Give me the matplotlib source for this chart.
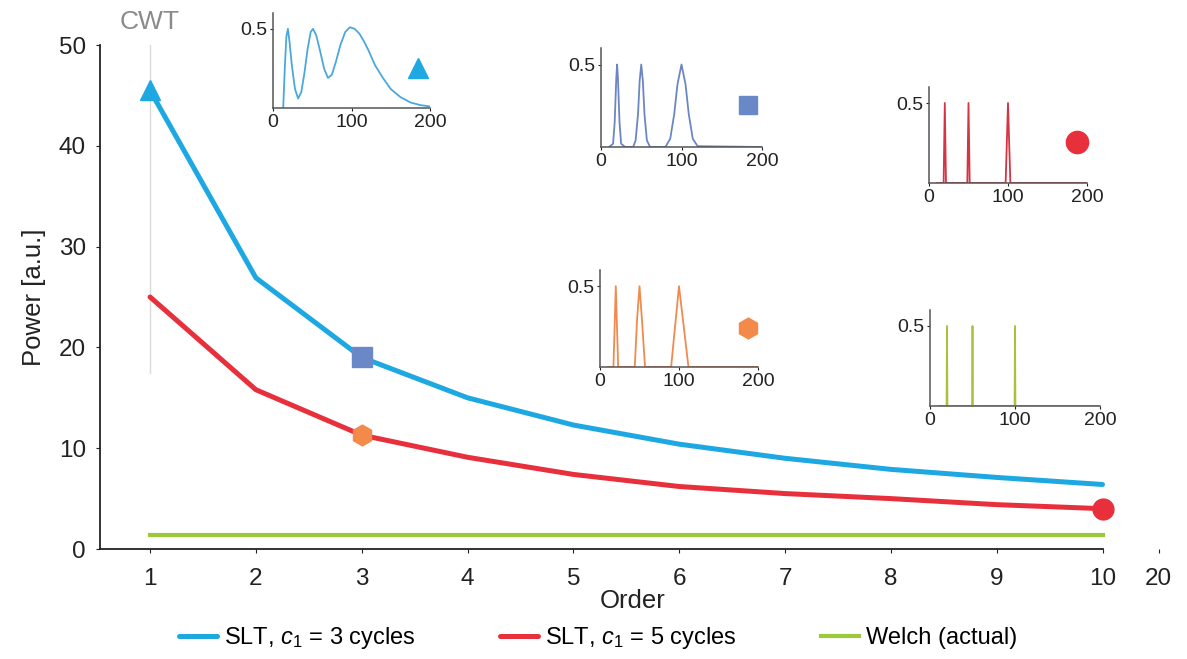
import matplotlib.pyplot as plt
import numpy as np

plt.rcParams['font.family'] = ['Liberation Sans', 'DejaVu Sans']
plt.rcParams['mathtext.fontset'] = 'custom'
plt.rcParams['mathtext.rm'] = 'Liberation Sans'
plt.rcParams['mathtext.it'] = 'Liberation Sans:italic'

# power vs. superlet order
order = [1, 2, 3, 4, 5, 6, 7, 8, 9, 10]
slt_c3 = [45.5, 26.9, 19.0, 15.0, 12.3, 10.4, 9.0, 7.9, 7.1, 6.4]
slt_c5 = [25.0, 15.8, 11.3, 9.1, 7.4, 6.2, 5.5, 5.0, 4.4, 4.0]
welch = [1.4] * 10

xticks = [1, 2, 3, 4, 5, 6, 7, 8, 9, 10]
xtick_labels = ['1', '2', '3', '4', '5', '6', '7', '8', '9', '10']
x_break = 10.53  # position where order 20 is shown after the gap

# spectra shown in the small panels (frequency, power)
f_cwt = [13, 15, 17, 19, 21, 24, 28, 32, 36, 40, 44, 48, 51, 55, 60, 65, 70, 75,
         80, 86, 92, 98, 104, 110, 116, 122, 130, 140, 150, 162, 175, 188, 200]
p_cwt = [0, 0.25, 0.45, 0.5, 0.42, 0.27, 0.12, 0.06, 0.1, 0.22, 0.37, 0.48, 0.5,
         0.46, 0.36, 0.25, 0.19, 0.21, 0.29, 0.4, 0.48, 0.51, 0.5, 0.47, 0.42,
         0.36, 0.27, 0.19, 0.12, 0.07, 0.035, 0.018, 0.01]

f_o3 = [10, 15, 17, 19, 20, 21, 23, 25, 30, 40, 43, 46, 48, 50, 52, 54, 57, 61,
        80, 86, 91, 95, 100, 105, 109, 114, 120, 200]
p_o3 = [0, 0.02, 0.15, 0.42, 0.5, 0.42, 0.15, 0.02, 0, 0, 0.04, 0.2, 0.4, 0.5,
        0.4, 0.2, 0.04, 0, 0, 0.05, 0.2, 0.38, 0.5, 0.38, 0.2, 0.05, 0.005, 0]

f_o3c5 = [10, 17, 20, 23, 44, 47, 50, 53, 57, 90, 95, 100, 106, 112, 200]
p_o3c5 = [0, 0, 0.5, 0, 0, 0.3, 0.5, 0.3, 0, 0, 0.25, 0.5, 0.25, 0, 0]

f_o10 = [10, 18.5, 20, 21.5, 48.5, 50, 51.5, 97, 100, 103, 200]
p_o10 = [0, 0, 0.5, 0, 0, 0.5, 0, 0, 0.5, 0, 0]

f_welch = [10, 19.5, 20, 20.5, 49.5, 50, 50.5, 99.5, 100, 100.5, 200]
p_welch = [0, 0, 0.5, 0, 0, 0.5, 0, 0, 0.5, 0, 0]

blue = '#1ea8e2'
red = '#e8303c'
green = '#9cc83a'
slate = '#6a88c8'
orange = '#f48a4a'
dark = '#222222'

W, H = 1187, 659
fig = plt.figure(figsize=(W / 100, H / 100), dpi=100)

x0 = 0.527
ax = fig.add_axes([100 / W, 1 - 549 / H, 1066 / W, 504 / H])
ax.set_xlim(x0, 10.6)
ax.set_ylim(0, 50)
for s in ['top', 'right']:
    ax.spines[s].set_visible(False)
for s in ['left', 'bottom']:
    ax.spines[s].set_linewidth(1.3)
    ax.spines[s].set_color(dark)
ax.spines['bottom'].set_bounds(x0, 10)

# CWT reference line at order 1
ax.plot([1, 1], [17.5, 50], color='#dadada', lw=1.0, zorder=1)
ax.text(1, 52.3, 'CWT', color='#8a8a8a', fontsize=19, ha='center', va='center')

ax.plot(order, slt_c3, color=blue, lw=3.6, solid_capstyle='round',
        label=r'SLT, $c_1$ = 3 cycles')
ax.plot(order, slt_c5, color=red, lw=3.6, solid_capstyle='round',
        label=r'SLT, $c_1$ = 5 cycles')
ax.plot(order, welch, color=green, lw=3.0, label='Welch (actual)')

ax.plot(order[0], slt_c3[0], '^', color=blue, ms=15, zorder=5)
ax.plot(order[2], slt_c3[2], 's', color=slate, ms=14, zorder=5)
ax.plot(order[2], slt_c5[2], 'h', color=orange, ms=15, zorder=5)
ax.plot(order[9], slt_c5[9], 'o', color=red, ms=15, zorder=5)

ax.set_xticks(xticks + [x_break])
ax.set_xticklabels(xtick_labels + ['20'])
ax.set_yticks([0, 10, 20, 30, 40, 50])
ax.tick_params(axis='x', labelsize=17.5, length=3, pad=11, colors=dark)
ax.tick_params(axis='y', labelsize=17.5, length=3, pad=7, colors=dark)
ax.set_xlabel('Order', fontsize=18.5, color=dark, labelpad=-1)
ax.set_ylabel('Power [a.u.]', fontsize=18.5, color=dark, labelpad=9)

fig.legend(loc='center', bbox_to_anchor=(0.504, 0.032), ncol=3, frameon=False,
           fontsize=17, handlelength=1.6, handletextpad=0.3, columnspacing=3.6)


def inset(left, right, bottom, top, f, p, color, marker, mcolor, mx, my, ms):
    a = fig.add_axes([left / W, 1 - bottom / H, (right - left) / W, (bottom - top) / H])
    a.plot(f, p, color=color, lw=1.3)
    a.set_xlim(0, 200)
    a.set_ylim(0, 0.6)
    a.set_xticks([0, 100, 200])
    a.set_yticks([0.5])
    a.set_yticklabels(['0.5'])
    a.tick_params(labelsize=14, length=2, pad=2, colors=dark)
    for s in ['top', 'right']:
        a.spines[s].set_visible(False)
    for s in ['left', 'bottom']:
        a.spines[s].set_color('#555555')
        a.spines[s].set_linewidth(1.1)
    a.patch.set_alpha(0)
    a.plot(mx, my, marker, color=mcolor, ms=ms, transform=fig.transFigure,
           clip_on=False)
    return a


inset(273, 430, 108, 13, f_cwt, p_cwt, '#4aa8dc', '^', blue, 418 / W, 1 - 68 / H, 15)
inset(601, 762, 147, 48, f_o3, p_o3, '#6c86c4', 's', slate, 748 / W, 1 - 105 / H, 13)
inset(929, 1087, 183, 87, f_o10, p_o10, '#d43444', 'o', red, 1077 / W, 1 - 142 / H, 16)
inset(600, 758, 367, 270, f_o3c5, p_o3c5, '#f08a50', 'h', orange, 748 / W, 1 - 328 / H, 15)
inset(930, 1100, 406, 310, f_welch, p_welch, '#a8c23c', '', green, 0, 0, 0)

fig.savefig('out.png', dpi=100)
